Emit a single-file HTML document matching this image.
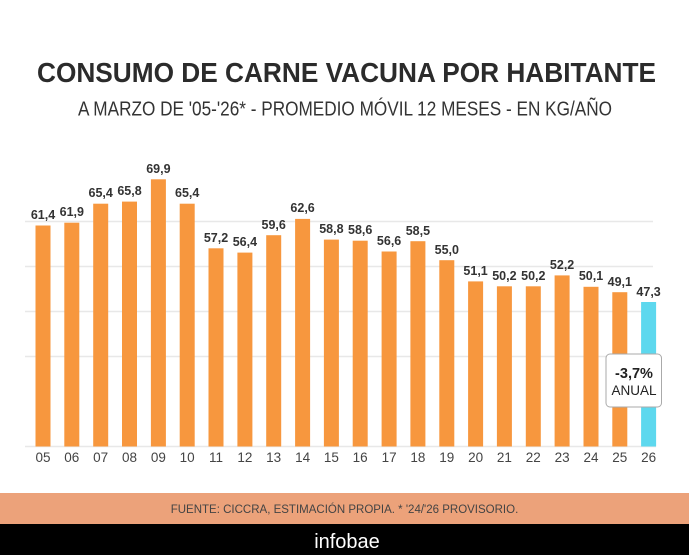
<!DOCTYPE html>
<html><head><meta charset="utf-8"><style>
html,body{margin:0;padding:0;background:#fff;}
svg{display:block;}
text{font-family:"Liberation Sans",sans-serif;}
</style></head><body>
<svg width="689" height="555" viewBox="0 0 689 555" xmlns="http://www.w3.org/2000/svg">
<rect width="689" height="555" fill="#fff"/>
<text x="37" y="82" font-size="28" font-weight="bold" fill="#2b2b2b" textLength="619" lengthAdjust="spacingAndGlyphs">CONSUMO DE CARNE VACUNA POR HABITANTE</text>
<text x="78" y="115.5" font-size="20.5" fill="#333" textLength="534" lengthAdjust="spacingAndGlyphs">A MARZO DE '05-'26* - PROMEDIO MÓVIL 12 MESES - EN KG/AÑO</text>
<g stroke="#e8e8e8" stroke-width="1.5">
<line x1="25" y1="221.5" x2="653" y2="221.5"/>
<line x1="25" y1="266.5" x2="653" y2="266.5"/>
<line x1="25" y1="311.5" x2="653" y2="311.5"/>
<line x1="25" y1="356.5" x2="653" y2="356.5"/>
<line x1="25" y1="446.5" x2="656" y2="446.5"/>
</g>
<g fill="#F7973E">
<rect x="35.5" y="225.5" width="15" height="221"/>
<rect x="64.3" y="222.7" width="15" height="223.8"/>
<rect x="93.2" y="203.7" width="15" height="242.8"/>
<rect x="122" y="201.6" width="15" height="244.9"/>
<rect x="150.9" y="179.3" width="15" height="267.2"/>
<rect x="179.7" y="203.7" width="15" height="242.8"/>
<rect x="208.5" y="248.3" width="15" height="198.2"/>
<rect x="237.4" y="252.6" width="15" height="193.9"/>
<rect x="266.2" y="235.2" width="15" height="211.3"/>
<rect x="295.1" y="218.9" width="15" height="227.6"/>
<rect x="323.9" y="239.6" width="15" height="206.9"/>
<rect x="352.7" y="240.7" width="15" height="205.8"/>
<rect x="381.6" y="251.5" width="15" height="195"/>
<rect x="410.4" y="241.2" width="15" height="205.3"/>
<rect x="439.3" y="260.2" width="15" height="186.3"/>
<rect x="468.1" y="281.4" width="15" height="165.1"/>
<rect x="496.9" y="286.3" width="15" height="160.2"/>
<rect x="525.8" y="286.3" width="15" height="160.2"/>
<rect x="554.6" y="275.4" width="15" height="171.1"/>
<rect x="583.5" y="286.8" width="15" height="159.7"/>
<rect x="612.3" y="292.2" width="15" height="154.3"/>
</g>
<rect x="641.1" y="302" width="15" height="144.5" fill="#5DD8EE"/>
<g font-size="12.5" font-weight="bold" fill="#333" text-anchor="middle">
<text x="43" y="219">61,4</text>
<text x="71.8" y="216">61,9</text>
<text x="100.7" y="197">65,4</text>
<text x="129.5" y="195">65,8</text>
<text x="158.4" y="173">69,9</text>
<text x="187.2" y="197">65,4</text>
<text x="216" y="242">57,2</text>
<text x="244.9" y="246">56,4</text>
<text x="273.7" y="229">59,6</text>
<text x="302.6" y="212">62,6</text>
<text x="331.4" y="233">58,8</text>
<text x="360.2" y="234">58,6</text>
<text x="389.1" y="245">56,6</text>
<text x="417.9" y="235">58,5</text>
<text x="446.8" y="254">55,0</text>
<text x="475.6" y="275">51,1</text>
<text x="504.4" y="280">50,2</text>
<text x="533.3" y="280">50,2</text>
<text x="562.1" y="269">52,2</text>
<text x="591" y="280">50,1</text>
<text x="619.8" y="286">49,1</text>
<text x="648.6" y="296">47,3</text>
</g>
<g font-size="13.5" fill="#444" text-anchor="middle">
<text x="43" y="462">05</text><text x="71.8" y="462">06</text><text x="100.7" y="462">07</text>
<text x="129.5" y="462">08</text><text x="158.4" y="462">09</text><text x="187.2" y="462">10</text>
<text x="216" y="462">11</text><text x="244.9" y="462">12</text><text x="273.7" y="462">13</text>
<text x="302.6" y="462">14</text><text x="331.4" y="462">15</text><text x="360.2" y="462">16</text>
<text x="389.1" y="462">17</text><text x="417.9" y="462">18</text><text x="446.8" y="462">19</text>
<text x="475.6" y="462">20</text><text x="504.4" y="462">21</text><text x="533.3" y="462">22</text>
<text x="562.1" y="462">23</text><text x="591" y="462">24</text><text x="619.8" y="462">25</text>
<text x="648.6" y="462">26</text>
</g>
<rect x="606" y="354" width="55.5" height="53" rx="4" fill="#fff" stroke="#aaa" stroke-width="1"/>
<text x="634" y="378" font-size="14.5" font-weight="bold" fill="#222" text-anchor="middle">-3,7%</text>
<text x="634" y="395" font-size="13.5" fill="#222" text-anchor="middle">ANUAL</text>
<rect x="0" y="493" width="689" height="31" fill="#ECA27A"/>
<text x="344.5" y="513" font-size="11.5" fill="#444" text-anchor="middle">FUENTE: CICCRA, ESTIMACIÓN PROPIA. * '24/'26 PROVISORIO.</text>
<rect x="0" y="524" width="689" height="31" fill="#000"/>
<text x="347" y="548" font-size="20" fill="#fff" text-anchor="middle">infobae</text>
</svg>
</body></html>
